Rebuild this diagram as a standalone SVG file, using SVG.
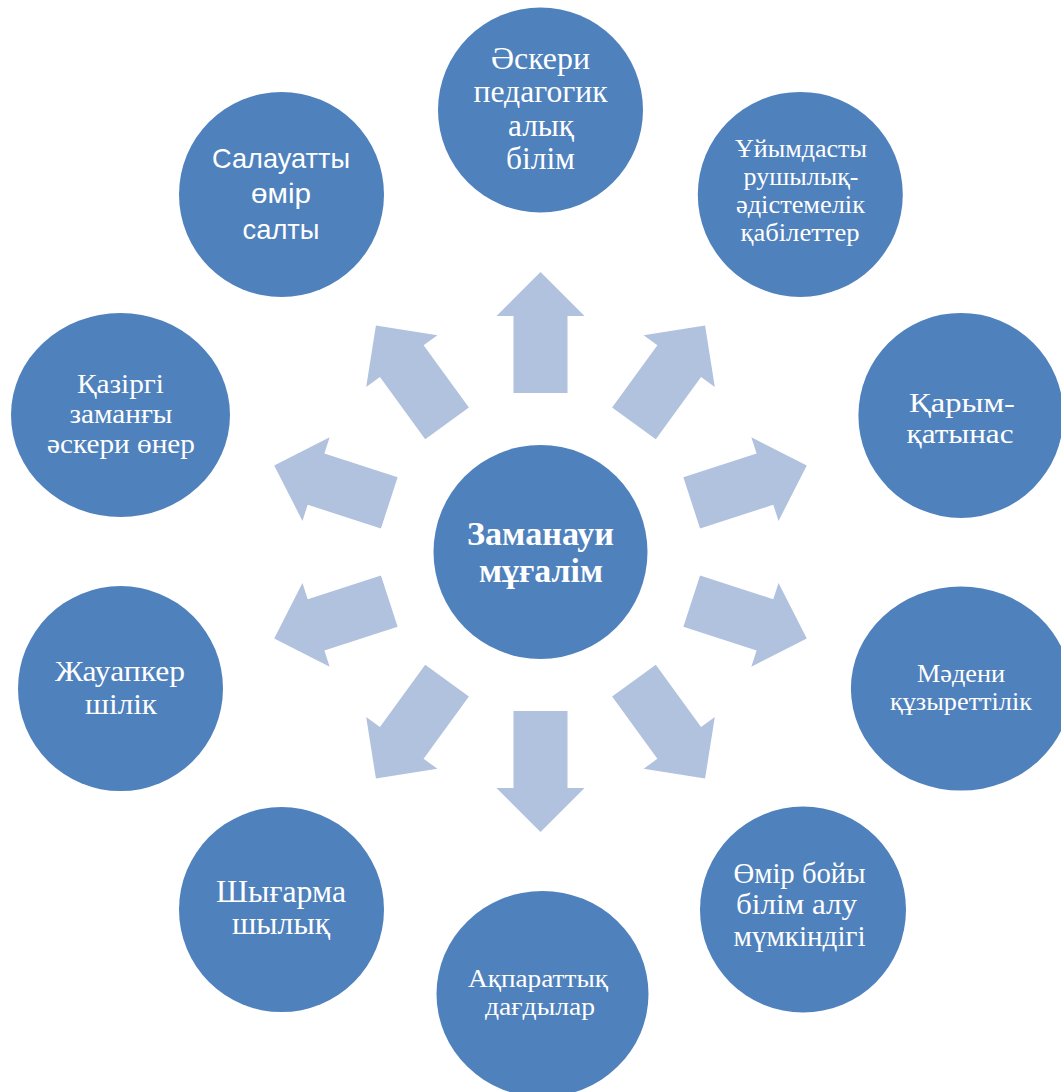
<svg xmlns="http://www.w3.org/2000/svg" xmlns:xlink="http://www.w3.org/1999/xlink" width="1061" height="1092" viewBox="0 0 1061 1092">
<style>
.node{fill:#4F81BD}
.arrow{fill:#B1C2DE}
text{fill:#FFFFFF;text-anchor:middle;font-family:"Liberation Serif","Times New Roman",serif}
.sans{font-family:"Liberation Sans",Arial,sans-serif}
.bold{font-weight:bold}
</style>
<defs>
<polygon id="arr" class="arrow" points="-27,-159 -27,-236 -44,-236 0,-280 44,-236 27,-236 27,-159" transform="translate(540.5 552)"/>
</defs>
<rect width="1061" height="1092" fill="#FFFFFF"/>
<g id="connectors">
<use xlink:href="#arr" transform="rotate(0 540.5 552)"/>
<use xlink:href="#arr" transform="rotate(36 540.5 552)"/>
<use xlink:href="#arr" transform="rotate(72 540.5 552)"/>
<use xlink:href="#arr" transform="rotate(108 540.5 552)"/>
<use xlink:href="#arr" transform="rotate(144 540.5 552)"/>
<use xlink:href="#arr" transform="rotate(180 540.5 552)"/>
<use xlink:href="#arr" transform="rotate(216 540.5 552)"/>
<use xlink:href="#arr" transform="rotate(252 540.5 552)"/>
<use xlink:href="#arr" transform="rotate(288 540.5 552)"/>
<use xlink:href="#arr" transform="rotate(324 540.5 552)"/>
</g>
<g id="center">
<circle class="node" cx="540.5" cy="552" r="107"/>
<text class="bold" font-size="34"><tspan x="540.5" y="545" textLength="147" lengthAdjust="spacingAndGlyphs">Заманауи</tspan></text>
<text class="bold" font-size="34"><tspan x="541" y="581.5" textLength="124" lengthAdjust="spacingAndGlyphs">мұғалім</tspan></text>
</g>
<g id="n-askeri">
<circle class="node" cx="540.5" cy="110" r="102.5"/>
<text font-size="32" x="540.5" y="69" textLength="99" lengthAdjust="spacingAndGlyphs">Әскери</text>
<text font-size="32" x="540.5" y="102" textLength="134" lengthAdjust="spacingAndGlyphs">педагогик</text>
<text font-size="32" x="541" y="136" textLength="66" lengthAdjust="spacingAndGlyphs">алық</text>
<text font-size="32" x="540.5" y="168.5" textLength="69" lengthAdjust="spacingAndGlyphs">білім</text>
</g>
<g id="n-uiymdasty">
<circle class="node" cx="800.3" cy="194.4" r="102.5"/>
<text font-size="26" x="801" y="156.5" textLength="132" lengthAdjust="spacingAndGlyphs">Ұйымдасты</text>
<text font-size="26" x="801" y="184.5" textLength="115" lengthAdjust="spacingAndGlyphs">рушылық-</text>
<text font-size="26" x="800.5" y="212.5" textLength="129" lengthAdjust="spacingAndGlyphs">әдістемелік</text>
<text font-size="26" x="800" y="241" textLength="119" lengthAdjust="spacingAndGlyphs">қабілеттер</text>
</g>
<g id="n-karym">
<circle class="node" cx="960.9" cy="415.4" r="102.5"/>
<text font-size="28" x="962" y="411.5" textLength="106" lengthAdjust="spacingAndGlyphs">Қарым-</text>
<text font-size="28" x="960" y="443" textLength="107" lengthAdjust="spacingAndGlyphs">қатынас</text>
</g>
<g id="n-madeni">
<ellipse class="node" cx="960.9" cy="688.6" rx="110" ry="102"/>
<text font-size="25" x="961" y="681.5" textLength="88" lengthAdjust="spacingAndGlyphs">Мәдени</text>
<text font-size="25" x="961" y="709.5" textLength="142" lengthAdjust="spacingAndGlyphs">құзыреттілік</text>
</g>
<g id="n-omir">
<circle class="node" cx="803" cy="909.6" r="103"/>
<text font-size="29" x="799.5" y="883" textLength="132" lengthAdjust="spacingAndGlyphs">Өмір бойы</text>
<text font-size="29" x="796.5" y="913.5" textLength="121" lengthAdjust="spacingAndGlyphs">білім алу</text>
<text font-size="29" x="799.5" y="946" textLength="132" lengthAdjust="spacingAndGlyphs">мүмкіндігі</text>
</g>
<g id="n-akparattyk">
<ellipse class="node" cx="542.5" cy="994" rx="106" ry="103"/>
<text font-size="25" x="538" y="986.5" textLength="140" lengthAdjust="spacingAndGlyphs">Ақпараттық</text>
<text font-size="25" x="540" y="1015" textLength="110" lengthAdjust="spacingAndGlyphs">дағдылар</text>
</g>
<g id="n-shygarma">
<circle class="node" cx="281.5" cy="909.6" r="102.5"/>
<text font-size="31" x="281" y="901.5" textLength="130" lengthAdjust="spacingAndGlyphs">Шығарма</text>
<text font-size="31" x="281" y="934" textLength="98" lengthAdjust="spacingAndGlyphs">шылық</text>
</g>
<g id="n-zhauapker">
<circle class="node" cx="120.5" cy="688.6" r="102.5"/>
<text font-size="30" x="120" y="681" textLength="130" lengthAdjust="spacingAndGlyphs">Жауапкер</text>
<text font-size="30" x="121" y="714" textLength="72" lengthAdjust="spacingAndGlyphs">шілік</text>
</g>
<g id="n-kazirgi">
<ellipse class="node" cx="120.5" cy="415" rx="109.5" ry="102"/>
<text font-size="28" x="120.5" y="392.5" textLength="87" lengthAdjust="spacingAndGlyphs">Қазіргі</text>
<text font-size="28" x="121" y="423" textLength="103" lengthAdjust="spacingAndGlyphs">заманғы</text>
<text font-size="28" x="121" y="453" textLength="148" lengthAdjust="spacingAndGlyphs">әскери өнер</text>
</g>
<g id="n-salauatty">
<circle class="node" cx="281.5" cy="194.5" r="102.5"/>
<text class="sans" font-size="28" x="281" y="168" textLength="138" lengthAdjust="spacingAndGlyphs">Салауатты</text>
<text class="sans" font-size="28" x="281" y="203" textLength="60" lengthAdjust="spacingAndGlyphs">өмір</text>
<text class="sans" font-size="28" x="281" y="239" textLength="77" lengthAdjust="spacingAndGlyphs">салты</text>
</g>
</svg>
